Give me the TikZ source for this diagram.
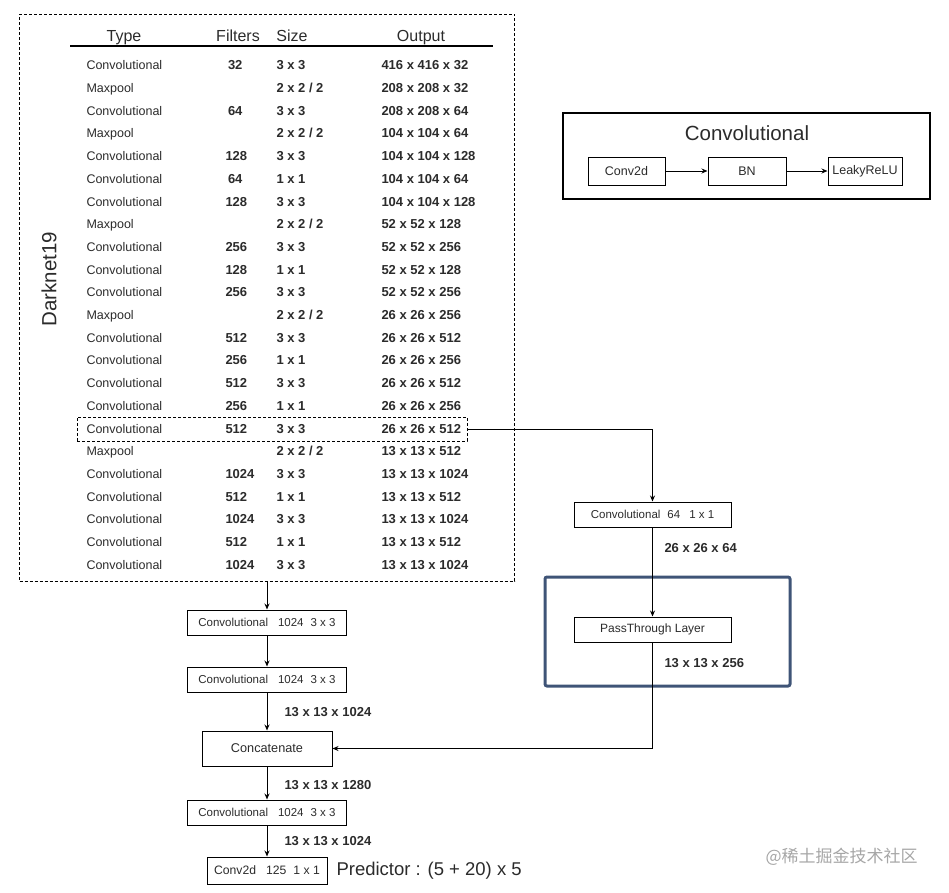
\documentclass[tikz,border=0pt]{standalone}
\usepackage{fontspec}
\setmainfont{Liberation Sans}
\newfontfamily\cjk{Noto Sans CJK SC}
\usetikzlibrary{arrows.meta}
\definecolor{txtgray}{HTML}{2B2B2B}
\definecolor{ptblue}{HTML}{3F5477}
\begin{document}
\begin{tikzpicture}[x=1pt, y=-1pt, line width=1pt,
    arr/.style={-{Stealth[length=6pt,width=5pt]}},
    cell/.style={anchor=west, inner sep=0pt, text height=9pt, text depth=0pt, text=txtgray},
    rowtype/.style={cell, font=\fontsize{12.5}{14}\selectfont},
    rownum/.style={cell, font=\fontsize{13}{14}\selectfont\bfseries},
    head/.style={anchor=base, font=\fontsize{16}{18}\selectfont, text=txtgray},
    layerbox/.style={draw, rectangle, inner sep=0pt, text=txtgray, font=\fontsize{11.5}{13}\selectfont},
    dimlabel/.style={anchor=west, inner sep=0pt, text=txtgray, font=\fontsize{13}{14}\selectfont\bfseries}]

            \useasboundingbox (0,0) rectangle (949,892);

            \node[draw, dash pattern=on 3pt off 2pt, line width=0.8pt, minimum width=495pt, minimum height=567pt, inner sep=0pt] (darknet) at (267,297.5) {};
            \node[rotate=90, font=\fontsize{20.5}{22}\selectfont, text=txtgray] (dkname) at (49,279) {Darknet19};

            \node[head] (htype) at (124,41) {Type};
            \node[head] (hfilt) at (238,41) {Filters};
            \node[head] (hsize) at (292,41) {Size};
            \node[head] (hout) at (421,41) {Output};
            \draw[line width=1.2pt] (70,46) -- (493,46);

            \foreach \t/\f/\s/\o [count=\i] in {
                Convolutional/{\hspace{2.5pt}32}/3 x 3/416 x 416 x 32,
                Maxpool//{2 x 2 / 2}/208 x 208 x 32,
                Convolutional/{\hspace{2.5pt}64}/3 x 3/208 x 208 x 64,
                Maxpool//{2 x 2 / 2}/104 x 104 x 64,
                Convolutional/128/3 x 3/104 x 104 x 128,
                Convolutional/{\hspace{2.5pt}64}/1 x 1/104 x 104 x 64,
                Convolutional/128/3 x 3/104 x 104 x 128,
                Maxpool//{2 x 2 / 2}/52 x 52 x 128,
                Convolutional/256/3 x 3/52 x 52 x 256,
                Convolutional/128/1 x 1/52 x 52 x 128,
                Convolutional/256/3 x 3/52 x 52 x 256,
                Maxpool//{2 x 2 / 2}/26 x 26 x 256,
                Convolutional/512/3 x 3/26 x 26 x 512,
                Convolutional/256/1 x 1/26 x 26 x 256,
                Convolutional/512/3 x 3/26 x 26 x 512,
                Convolutional/256/1 x 1/26 x 26 x 256,
                Convolutional/512/3 x 3/26 x 26 x 512,
                Maxpool//{2 x 2 / 2}/13 x 13 x 512,
                Convolutional/1024/3 x 3/13 x 13 x 1024,
                Convolutional/512/1 x 1/13 x 13 x 512,
                Convolutional/1024/3 x 3/13 x 13 x 1024,
                Convolutional/512/1 x 1/13 x 13 x 512,
                Convolutional/1024/3 x 3/13 x 13 x 1024}
            {
                \pgfmathsetmacro{\yy}{65.3+22.7*(\i-1)}
                \node[rowtype] (type\i) at (86,\yy) {\t};
                \node[rownum] (filt\i) at (225,\yy) {\f};
                \node[rownum] (size\i) at (276,\yy) {\s};
                \node[rownum] (out\i) at (381,\yy) {\o};
            }

            \node[draw, dash pattern=on 3pt off 2pt, line width=0.8pt, minimum width=390pt, minimum height=24pt, inner sep=0pt] (route) at (272,429) {};

            \node[draw, line width=1.2pt, minimum width=367pt, minimum height=86pt, inner sep=0pt] (convblock) at (746.5,156) {};
            \node[font=\fontsize{20.5}{22}\selectfont, text=txtgray] (convtitle) at (747,133) {Convolutional};
            \node[layerbox, minimum width=77pt, minimum height=28pt, font=\fontsize{12.5}{14}\selectfont] (conv2d) at (626.5,171) {Conv2d};
            \node[layerbox, minimum width=78pt, minimum height=28pt, font=\fontsize{12.5}{14}\selectfont] (bn) at (747,171) {BN};
            \node[layerbox, minimum width=74pt, minimum height=28pt, font=\fontsize{12.5}{14}\selectfont] (leaky) at (865,171) {LeakyReLU};
            \draw[arr] (conv2d) -- (bn);
            \draw[arr] (bn) -- (leaky);

            \node[layerbox, minimum width=159pt, minimum height=25pt] (conv1) at (267,622.5) {Convolutional\hspace{10pt}1024\hspace{7pt}3 x 3};
            \node[layerbox, minimum width=159pt, minimum height=25pt] (conv2) at (267,679.5) {Convolutional\hspace{10pt}1024\hspace{7pt}3 x 3};
            \node[layerbox, minimum width=130pt, minimum height=35pt, font=\fontsize{12.7}{14}\selectfont] (concat) at (267,748.5) {Concatenate};
            \node[layerbox, minimum width=159pt, minimum height=25pt] (conv3) at (267,812.5) {Convolutional\hspace{10pt}1024\hspace{7pt}3 x 3};
            \node[layerbox, minimum width=120pt, minimum height=27pt, font=\fontsize{12.2}{14}\selectfont] (pred) at (267,870.5) {Conv2d\hspace{10pt}125\hspace{7pt}1 x 1};
            \node[anchor=west, inner sep=0pt, font=\fontsize{18.5}{20}\selectfont, text=txtgray] (predtext) at (336,871) {Predictor : (5 + 20) x 5};

            \node[layerbox, minimum width=157pt, minimum height=25pt] (conv64) at (652.5,514.5) {Convolutional\hspace{7pt}64\hspace{9pt}1 x 1};
            \node[draw=ptblue, line width=3pt, rounded corners=2pt, minimum width=245pt, minimum height=109pt, inner sep=0pt] (ptframe) at (667.5,631.5) {};
            \node[layerbox, minimum width=157pt, minimum height=25pt, font=\fontsize{12}{13}\selectfont] (pass) at (652.5,629.5) {PassThrough Layer};

            \node[dimlabel] (s1) at (284,712) {13 x 13 x 1024};
            \node[dimlabel] (s2) at (284,785) {13 x 13 x 1280};
            \node[dimlabel] (s3) at (284,841) {13 x 13 x 1024};
            \node[dimlabel] (s4) at (664,548) {26 x 26 x 64};
            \node[dimlabel] (s5) at (664,663) {13 x 13 x 256};

            \draw[arr] (darknet.south) -- (conv1.north);
            \draw[arr] (conv1) -- (conv2);
            \draw[arr] (conv2) -- (concat);
            \draw[arr] (concat) -- (conv3);
            \draw[arr] (conv3) -- (pred);
            \draw[arr] (route.east) -| (conv64.north);
            \draw[arr] (conv64) -- (pass);
            \draw[arr] (pass.south) |- (concat.east);

            \node[anchor=west, inner sep=0pt, text=black!35, font=\cjk\fontsize{17}{19}\selectfont] (mark) at (765,857) {@稀土掘金技术社区};
            \end{tikzpicture}
\end{document}
